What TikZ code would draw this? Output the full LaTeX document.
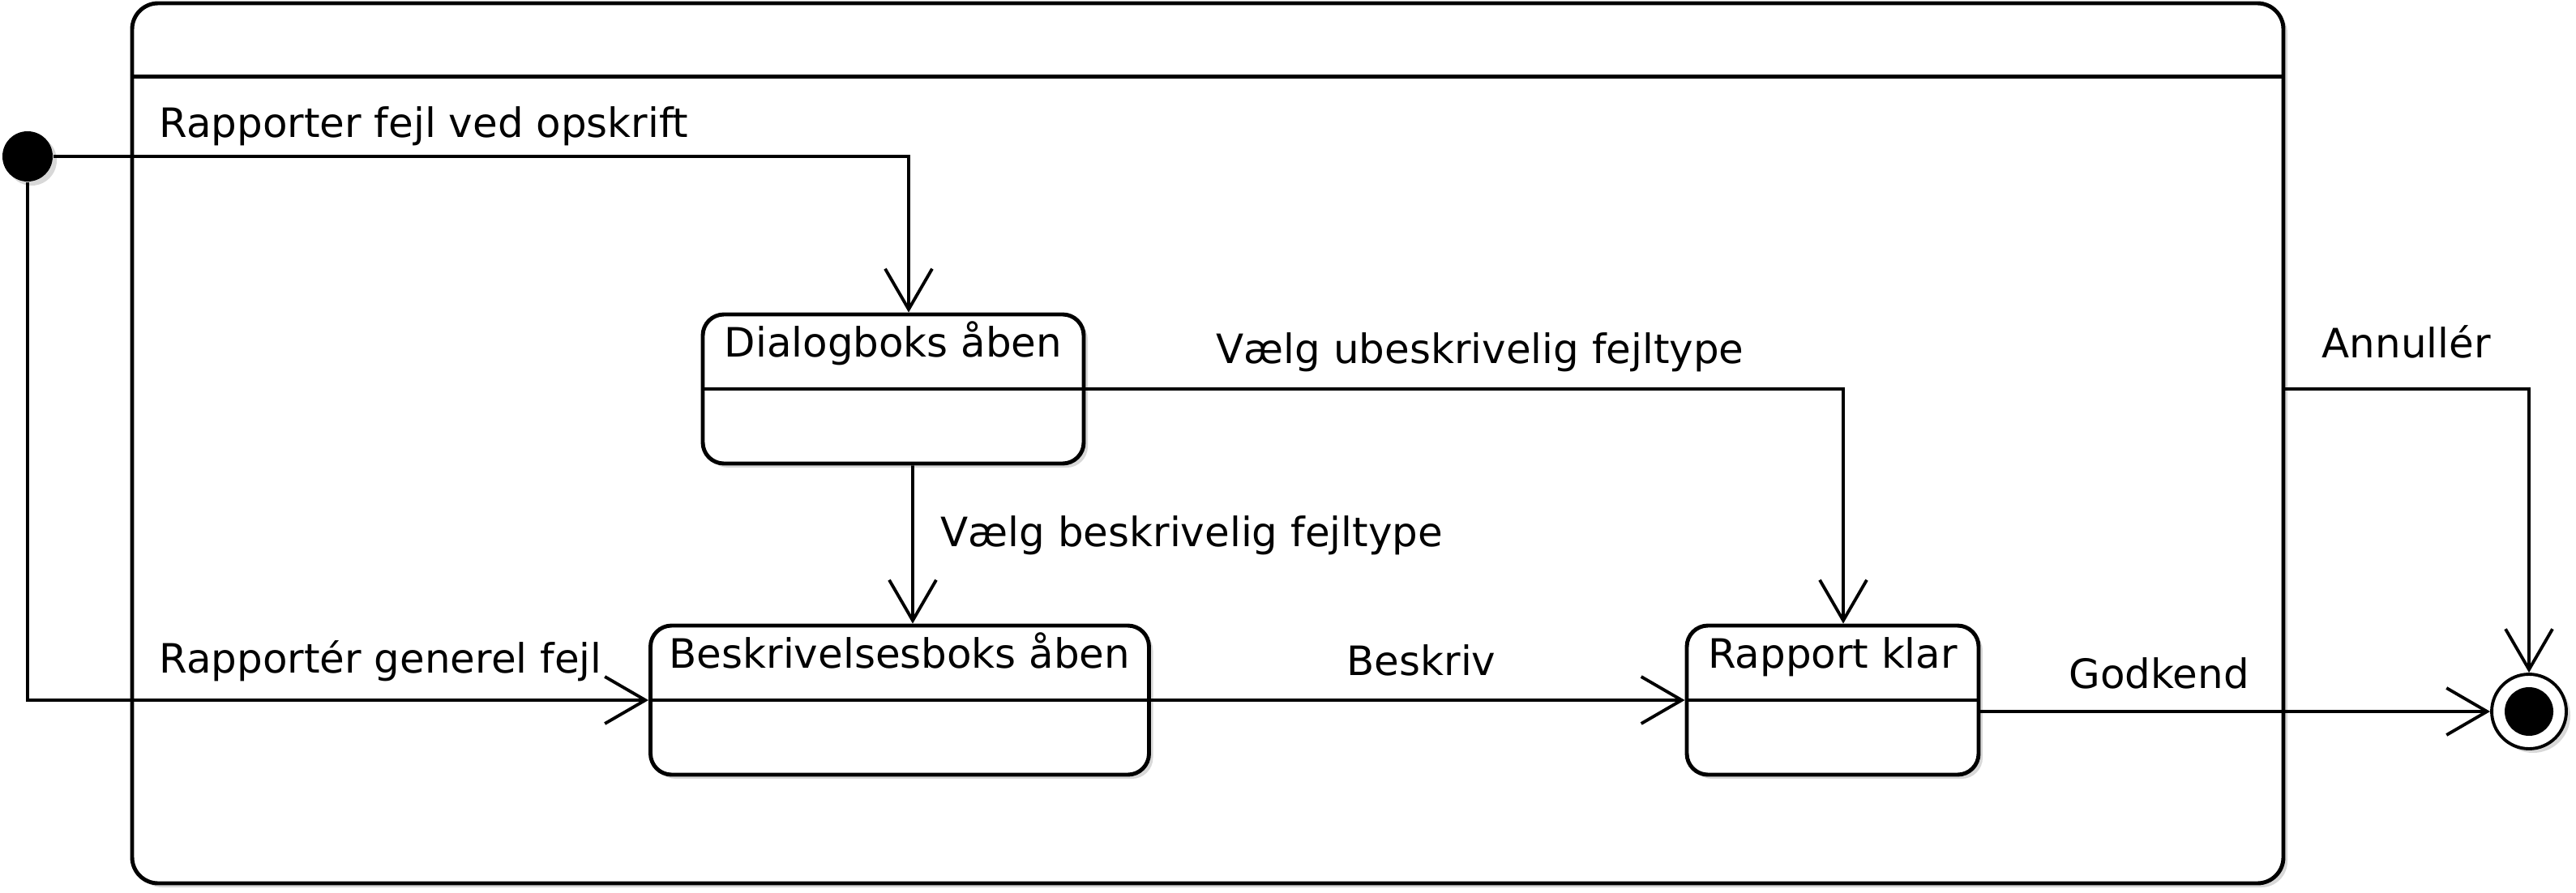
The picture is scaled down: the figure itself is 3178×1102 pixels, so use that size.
\documentclass[tikz,border=0pt]{standalone}
\usepackage{fontspec}
\setmainfont{DejaVu Sans}
\usetikzlibrary{arrows.meta}
\usetikzlibrary{shadows}

\begin{document}
\begin{tikzpicture}[x=0.1mm, y=-0.1mm,
  lbl/.style={font=\fontsize{14.2}{17}\selectfont, inner sep=0pt},
  shdw/.style={drop shadow={shadow xshift=0.5mm, shadow yshift=-0.5mm, fill=black!30, opacity=0.5}},
  stbox/.style={draw, line width=1.4pt, fill=white, rounded corners=2.6mm, minimum height=18.4mm, shdw,
    path picture={\draw[line width=1.4pt] (path picture bounding box.west) -- (path picture bounding box.east);},
    label={[lbl, anchor=base, yshift=-5.5mm]north:#1}},
  tr/.style={draw, line width=1.1pt, -{Straight Barb[length=5mm, width=5.8mm]}}]

\useasboundingbox (0,0) rectangle (3178,1102);

\node[draw, line width=1.4pt, rounded corners=3.2mm, fill=white, shdw,
  minimum width=265.4mm, minimum height=108.6mm] (frame) at (1490,547) {};
\draw[line width=1.4pt] ([yshift=-9.3mm]frame.north west) -- ([yshift=-9.3mm]frame.north east);

\node[stbox=Dialogboks åben, minimum width=47mm] (dlg) at (1102,480) {};
\node[stbox=Beskrivelsesboks åben, minimum width=61.5mm] (besk) at (1110,864) {};
\node[stbox=Rapport klar, minimum width=36mm] (klar) at (2261,864) {};
\node[circle, fill=black, minimum size=6.2mm, inner sep=0pt, shdw] (init) at (34,193) {};
\node[circle, draw, line width=1.1pt, fill=white, minimum size=9.2mm, inner sep=0pt, shdw,
  path picture={\fill[black] (path picture bounding box.center) circle (3mm);}] (fin) at (3120,878) {};

\draw[tr] (init) -| ([xshift=1.9mm]dlg.north);
\draw[tr] (init) |- (besk);
\draw[tr] ([xshift=2.4mm]dlg.south) -- ([xshift=1.6mm]besk.north);
\draw[tr] (dlg) -| ([xshift=1.3mm]klar.north);
\draw[tr] (besk) -- (klar);
\draw[tr] (klar.east |- fin) -- (fin);
\draw[tr] (frame.east |- dlg) -- (fin.north |- dlg) -- (fin);

\node[lbl, anchor=base west] (lopskrift) at (196,170) {Rapporter fejl ved opskrift};
\node[lbl, anchor=base west] (lubeskr) at (1500,448) {Vælg ubeskrivelig fejltype};
\node[lbl, anchor=base west] (lbeskr) at (1160,674) {Vælg beskrivelig fejltype};
\node[lbl, anchor=base west] (lgenerel) at (196,830) {Rapportér generel fejl};
\node[lbl, anchor=base west] (lbeskriv) at (1661,833) {Beskriv};
\node[lbl, anchor=base west] (lgodkend) at (2552,849) {Godkend};
\node[lbl, anchor=base west] (lannul) at (2864,441) {Annullér};
%
\end{tikzpicture}
\end{document}
